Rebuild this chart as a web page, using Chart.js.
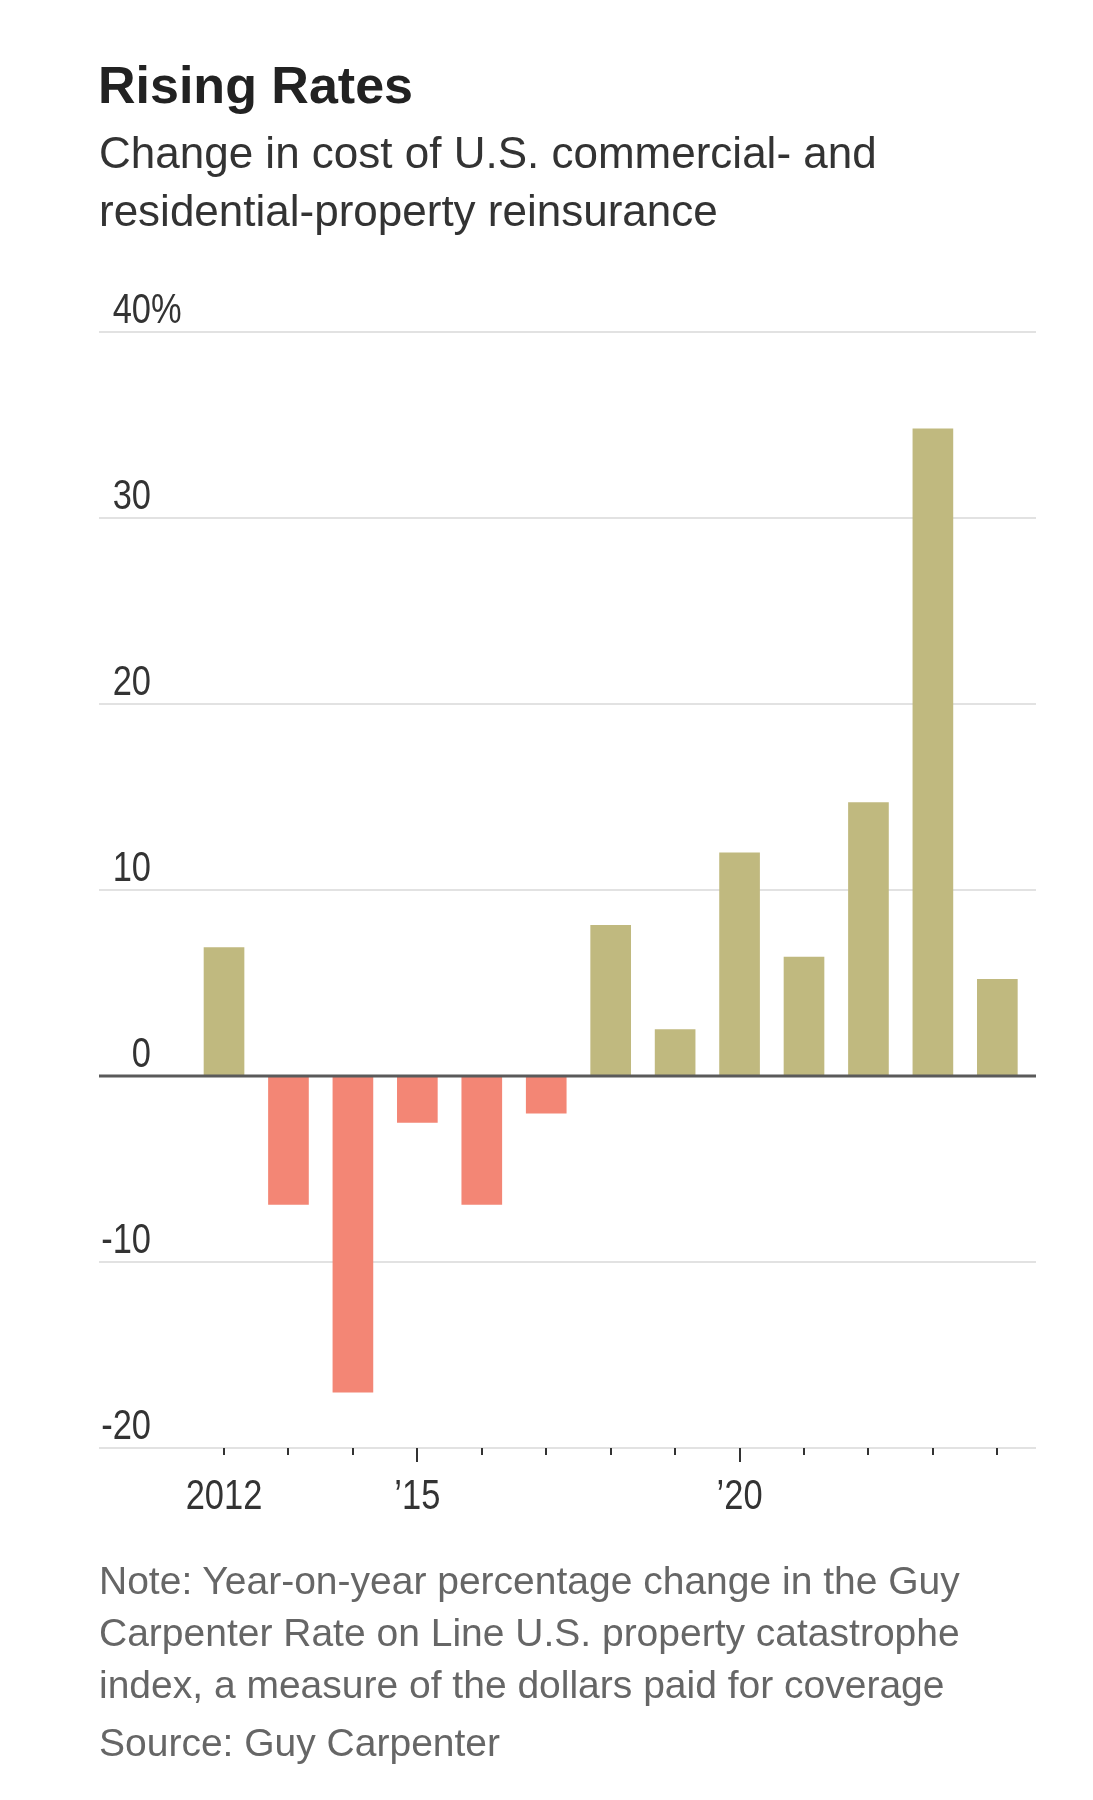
<!DOCTYPE html>
<html>
<head>
<meta charset="utf-8">
<script src="https://cdn.jsdelivr.net/npm/chart.js@4.4.1/dist/chart.umd.min.js"></script>
<style>
  body { margin: 0; background: #fff; }
  #page { position: relative; width: 1093px; height: 1800px; font-family: "Liberation Sans", Arial, sans-serif; }
  #chartBox { position: absolute; left: 0; top: 0; width: 1093px; height: 1800px; }
  .title { position: absolute; left: 98px; top: 59px; font-size: 52px; line-height: 52px; font-weight: bold; color: #222; }
  .subtitle { position: absolute; left: 99px; top: 124px; font-size: 44px; line-height: 58px; color: #333; }
  .note { position: absolute; left: 99px; top: 1555px; font-size: 39px; line-height: 52px; color: #666; }
  .note .src { display: block; margin-top: 6px; }
</style>
</head>
<body>
<div id="page">
  <div id="chartBox"><canvas id="rateChart"></canvas></div>
  <div class="title">Rising Rates</div>
  <div class="subtitle">Change in cost of U.S. commercial- and<br>residential-property reinsurance</div>
  <div class="note">Note: Year-on-year percentage change in the Guy<br>Carpenter Rate on Line U.S. property catastrophe<br>index, a measure of the dollars paid for coverage<span class="src">Source: Guy Carpenter</span></div>
</div>
<script>
// data
const years = [2012, 2013, 2014, 2015, 2016, 2017, 2018, 2019, 2020, 2021, 2022, 2023, 2024];
const changes = [6.9, -6.9, -17.0, -2.5, -6.9, -2.0, 8.1, 2.5, 12.0, 6.4, 14.7, 34.8, 5.2];
const labelYears = [2012, 2015, 2020];
const labelTexts = ["2012", "\u201915", "\u201920"];
const majorYears = [2015, 2020];

const upColor = "#c0b97f";
const downColor = "#f38675";
const squeeze = 0.82; // narrow look for the numbers

// y labels above each gridline, x labels, 0 line over the bars, year tick marks
const axisDecor = {
    id: "axisDecor",
    afterDatasetsDraw(chart) {
        const ctx = chart.ctx;
        const y = chart.scales.y;
        const x = chart.scales.x;
        const area = chart.chartArea;

        // zero line
        let zy = y.getPixelForValue(0);
        ctx.save();
        ctx.strokeStyle = "#5a5a5a";
        ctx.lineWidth = 3;
        ctx.beginPath();
        ctx.moveTo(area.left, zy);
        ctx.lineTo(area.right, zy);
        ctx.stroke();

        // tick marks under the bottom line
        ctx.strokeStyle = "#333";
        ctx.lineWidth = 2;
        years.forEach(yr => {
            let px = Math.round(x.getPixelForValue(yr));
            let len = majorYears.includes(yr) ? 14 : 7;
            ctx.beginPath();
            ctx.moveTo(px, area.bottom);
            ctx.lineTo(px, area.bottom + len);
            ctx.stroke();
        });

        // labels
        ctx.font = '42px "Liberation Sans", Arial, sans-serif';
        ctx.fillStyle = "#333";
        ctx.textBaseline = "alphabetic";
        ctx.scale(squeeze, 1);
        y.ticks.forEach(t => {
            let py = y.getPixelForValue(t.value) - 9;
            ctx.textAlign = "right";
            ctx.fillText(String(t.value), 151 / squeeze, py);
            if (t.value === y.max) {
                ctx.textAlign = "left";
                ctx.fillText("%", 151 / squeeze, py);
            }
        });
        ctx.textAlign = "center";
        labelYears.forEach((yr, i) => {
            let px = x.getPixelForValue(yr);
            ctx.fillText(labelTexts[i], px / squeeze, area.bottom + 61);
        });
        ctx.restore();
    }
};

new Chart(document.getElementById("rateChart"), {
    type: "bar",
    data: {
        datasets: [{
            data: years.map((yr, i) => ({ x: yr, y: changes[i] })),
            backgroundColor: changes.map(v => v >= 0 ? upColor : downColor),
            barThickness: 40
        }]
    },
    options: {
        responsive: true,
        maintainAspectRatio: false,
        animation: false,
        devicePixelRatio: 1,
        layout: { padding: { left: 99, right: 57, top: 332, bottom: 272 } },
        plugins: { legend: { display: false }, tooltip: { enabled: false } },
        scales: {
            x: {
                type: "linear",
                offset: false,
                min: 2010.06,
                max: 2024.6,
                afterBuildTicks: scale => {
                    scale.ticks = years.map(v => ({ value: v }));
                },
                afterFit: scale => { scale.height = 80; },
                grid: { display: false, drawTicks: false },
                border: { display: false },
                ticks: { display: false }
            },
            y: {
                min: -20,
                max: 40,
                afterFit: scale => { scale.width = 0; },
                ticks: { stepSize: 10, display: false },
                grid: {
                    color: c => c.tick && c.tick.value === 0 ? "rgba(0,0,0,0)" : "#e2e2e2",
                    lineWidth: 2,
                    drawTicks: false
                },
                border: { display: false }
            }
        }
    },
    plugins: [axisDecor]
});
</script>
</body>
</html>
